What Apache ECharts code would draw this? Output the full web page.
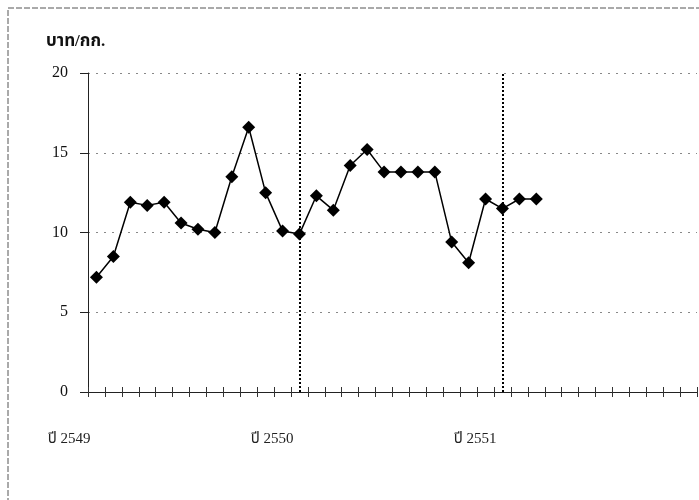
<!DOCTYPE html>
<html>
<head>
<meta charset="utf-8">
<script src="https://cdn.jsdelivr.net/npm/echarts@6/dist/echarts.min.js"></script>
<style>html,body{margin:0;padding:0;background:#fff}#c{width:699px;height:500px}</style>
</head>
<body>
<div id="c"></div>
<script>
// months Jan 2549 .. Dec 2551 (36 categories)
var years = ['ปี 2549', 'ปี 2550', 'ปี 2551'];
var months = [];
for (var y = 0; y < 3; y++) { for (var m = 1; m <= 12; m++) { months.push(years[y] + '-' + m); } }
var prices = [7.2, 8.5, 11.9, 11.7, 11.9, 10.6, 10.2, 10.0, 13.5, 16.6, 12.5, 10.1,
              9.9, 12.3, 11.4, 14.2, 15.2, 13.8, 13.8, 13.8, 13.8, 9.4, 8.1, 12.1,
              11.5, 12.1, 12.1];
var yearStartIdx = [0, 12, 24];
var yTitle = 'บาท/กก.';
var fontFam = '"Liberation Serif", "Noto Sans Thai", "Loma", "Garuda", "Norasi", "DejaVu Serif", serif';

var chart = echarts.init(document.getElementById('c'));
chart.setOption({
  animation: false,
  backgroundColor: '#fff',
  title: {
    text: yTitle, left: 41, top: 28,
    textStyle: { fontFamily: fontFam, fontSize: 17, fontWeight: 'bold', color: '#111' }
  },
  graphic: [{
    type: 'rect', shape: { x: 8, y: 8, width: 720, height: 520 },
    style: { fill: 'none', stroke: '#555', lineWidth: 1, lineDash: [6, 2] }, silent: true
  }],
  grid: { left: 88, right: 2, top: 73, bottom: 108 },
  xAxis: [{
    type: 'category', data: months, boundaryGap: true,
    axisLine: { lineStyle: { color: '#222', width: 1 } },
    axisTick: { show: true, interval: 0, length: 5, lineStyle: { color: '#333' } },
    axisLabel: {
      interval: 0, margin: 40, align: 'right', padding: [0, 6, 0, 0],
      fontFamily: fontFam, fontSize: 15, color: '#222',
      formatter: function (v, i) { return yearStartIdx.indexOf(i) >= 0 ? years[yearStartIdx.indexOf(i)] : ''; }
    },
    splitLine: { show: false }
  }, {
    type: 'category', data: months, boundaryGap: true, position: 'bottom',
    axisLine: { show: false },
    axisTick: { show: true, inside: true, interval: 0, length: 5, lineStyle: { color: '#333' } },
    axisLabel: { show: false }
  }],
  yAxis: {
    type: 'value', min: 0, max: 20, interval: 5,
    axisLine: { show: true, lineStyle: { color: '#222' } },
    axisTick: { show: true, length: 8, lineStyle: { color: '#222' } },
    axisLabel: { margin: 20, fontFamily: fontFam, fontSize: 16, color: '#111' },
    splitLine: { show: true, lineStyle: { color: '#888', type: [2, 6], width: 1 } }
  },
  series: [{
    type: 'line', data: prices, xAxisIndex: 0,
    symbol: 'diamond', symbolSize: 13,
    itemStyle: { color: '#000' },
    lineStyle: { color: '#000', width: 1.5 },
    markLine: {
      silent: true, symbol: 'none', label: { show: false },
      lineStyle: { color: '#000', type: [2, 2], width: 2 },
      data: yearStartIdx.slice(1).map(function (i) { return { xAxis: i }; })
    }
  }]
});
</script>
</body>
</html>
